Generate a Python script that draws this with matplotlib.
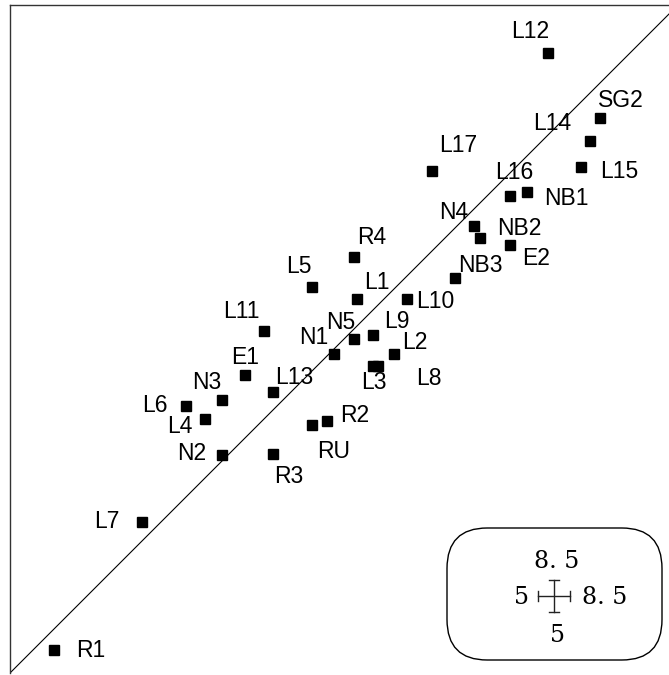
import matplotlib.pyplot as plt
from matplotlib.patches import FancyBboxPatch
from matplotlib.lines import Line2D

# Dados dos pontos (eixo x, eixo y) e deslocamento dos rótulos em pixels
names = ['L12', 'SG2', 'L14', 'L15', 'L17', 'L16', 'NB1', 'N4', 'NB2', 'E2',
         'NB3', 'R4', 'L5', 'L1', 'L10', 'L11', 'N5', 'L9', 'N1', 'L2',
         'L3', 'L8', 'E1', 'L13', 'N3', 'L6', 'L4', 'R2', 'RU', 'N2',
         'R3', 'L7', 'R1']
x_vals = [7.82, 8.09, 8.04, 7.99, 7.21, 7.62, 7.71, 7.43, 7.46, 7.62,
          7.33, 6.80, 6.58, 6.82, 7.08, 6.33, 6.80, 6.90, 6.70, 7.01,
          6.90, 6.93, 6.23, 6.38, 6.11, 5.92, 6.02, 6.66, 6.58, 6.11,
          6.38, 5.69, 5.23]
y_vals = [8.25, 7.91, 7.79, 7.65, 7.63, 7.50, 7.52, 7.34, 7.28, 7.24,
          7.07, 7.18, 7.02, 6.96, 6.96, 6.79, 6.75, 6.77, 6.67, 6.67,
          6.61, 6.61, 6.56, 6.47, 6.43, 6.40, 6.33, 6.32, 6.30, 6.14,
          6.15, 5.79, 5.12]
label_dx = [-18, 21, -38, 39, 26, 4, 39, -20, 40, 26,
            26, 18, -13, 20, 28, -22, -13, 24, -21, 21,
            1, 51, 0, 21, -15, -31, -25, 28, 22, -30,
            15, -35, 37]
label_dy = [21, 17, 17, -4, 26, 23, -6, 14, 9, -13,
            12, 19, 21, 16, -3, 20, 16, 14, 17, 12,
            -17, -13, 18, 15, 18, 0, -7, 6, -27, 2,
            -23, 1, 0]

axis_min = 5
axis_max = 8.5

W, H = 669, 675
fig = plt.figure(figsize=(W / 100, H / 100), dpi=100)

# eixo quadrado, com as bordas direita e inferior fora da imagem
ax = fig.add_axes([10 / W, (H - 673) / H, 668 / W, 668 / H])
ax.set_xlim(axis_min, axis_max)
ax.set_ylim(axis_min, axis_max)
ax.set_xticks([])
ax.set_yticks([])
ax.spines['bottom'].set_visible(False)
ax.spines['right'].set_visible(False)
for s in ['top', 'left']:
    ax.spines[s].set_color('#333333')
    ax.spines[s].set_linewidth(1.0)

ax.plot([axis_min, axis_max], [axis_min, axis_max], color='black', lw=0.8)
ax.plot(x_vals, y_vals, 's', color='black', markersize=7.2, ls='none')

for n, x, y, dx, dy in zip(names, x_vals, y_vals, label_dx, label_dy):
    ax.annotate(n, (x, y), xytext=(dx, dy), textcoords='offset pixels',
                ha='center', va='center', fontsize=16.5,
                family='Liberation Sans', color='black')

# legenda (caixa arredondada com a cruz)
def px(x, y):
    return x / W, 1 - y / H

x0, y0 = px(447, 660)
x1, y1 = px(662, 528)
box = FancyBboxPatch((x0, y0), x1 - x0, y1 - y0,
                     boxstyle='round,pad=0,rounding_size=0.06',
                     transform=fig.transFigure, facecolor='white',
                     edgecolor='black', lw=1.0)
fig.patches.append(box)

cx, cy = 554, 596
arm = 16
cap = 5
segs = [
    ((cx - arm, cy), (cx + arm, cy)),
    ((cx, cy - arm), (cx, cy + arm)),
    ((cx - arm, cy - cap), (cx - arm, cy + cap)),
    ((cx + arm, cy - cap), (cx + arm, cy + cap)),
    ((cx - cap, cy - arm), (cx + cap, cy - arm)),
    ((cx - cap, cy + arm), (cx + cap, cy + arm)),
]
for (a, b) in segs:
    pa, pb = px(*a), px(*b)
    fig.lines.append(Line2D([pa[0], pb[0]], [pa[1], pb[1]],
                            transform=fig.transFigure, color='#222222', lw=1.0))

leg_font = dict(family='DejaVu Serif', fontsize=17, color='black',
                transform=fig.transFigure, va='center')
fig.text(*px(557, 561), '8. 5', ha='center', **leg_font)
fig.text(*px(557, 635), '5', ha='center', **leg_font)
fig.text(*px(529, 598), '5', ha='right', **leg_font)
fig.text(*px(582, 598), '8. 5', ha='left', **leg_font)

fig.savefig('out.png', dpi=100)
